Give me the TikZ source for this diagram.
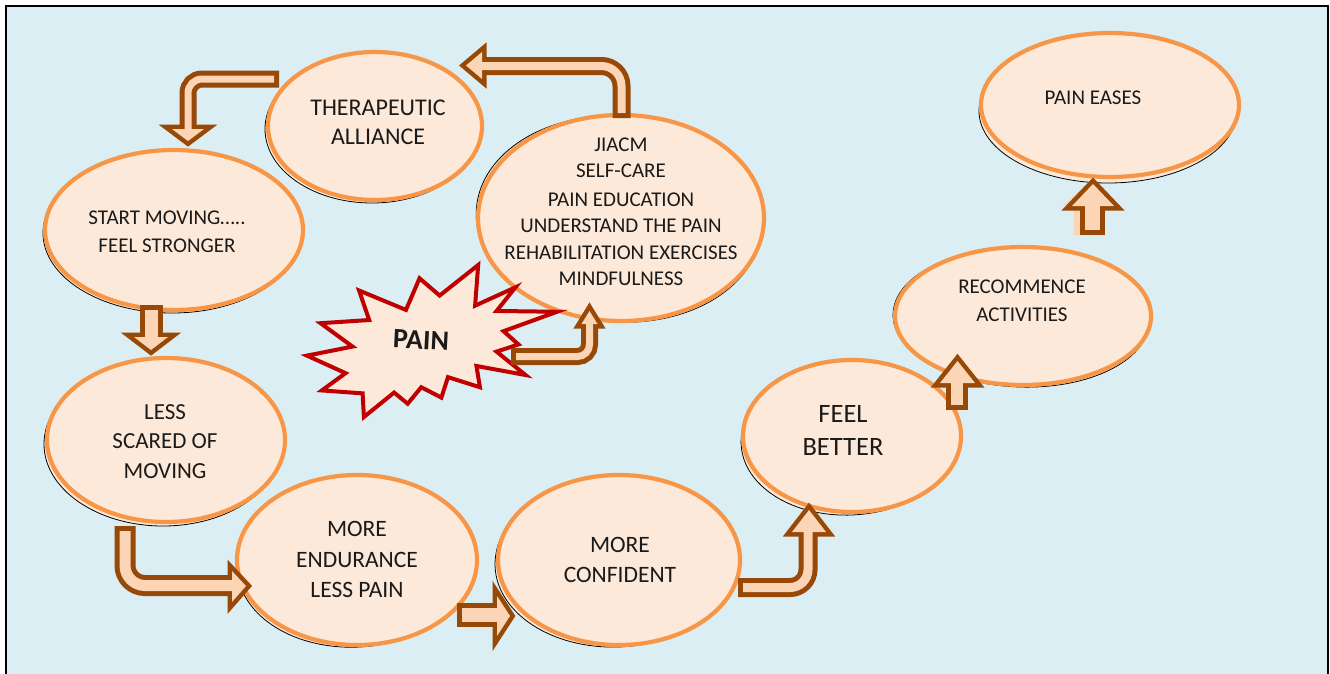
\documentclass[tikz,border=0pt]{standalone}
\usepackage{fontspec}
\setmainfont{Carlito}
\definecolor{sky}{HTML}{DAEEF3}
\definecolor{peach}{HTML}{FDE9D9}
\definecolor{rimorange}{HTML}{F79646}
\definecolor{arrowbrown}{HTML}{984807}
\definecolor{arrowfill}{HTML}{FBD5B5}
\definecolor{burstred}{HTML}{C00000}
\definecolor{inktext}{HTML}{1A1A1A}

% sketchy bubble: thin black ellipse underneath, thick orange ellipse on top
% #1 name, #2 cx, #3 cy, #4 rx, #5 ry, #6 dx, #7 dy, #8 tilt of the black trace
\newcommand\bubble[8]{%
  \draw[black, line width=0.8, fill=peach,
        rotate around={#8:({#2+(#6)},{#3+(#7)})}]
        ({#2+(#6)},{#3+(#7)}) ellipse [x radius=#4, y radius=#5];
  \draw[rimorange, line width=4.2, fill=peach] (#2,#3) ellipse [x radius=#4, y radius=#5];
  \coordinate (#1) at (#2,#3);
}

% block arrow: [path options]{shaft centre line}{shaft width}{head triangle}
\newcommand\blockarrow[4][]{%
  \draw[arrowbrown, line width=#3+10, shorten <=-5, #1] #2;
  \filldraw[arrowbrown, line width=9, line join=miter] #4 -- cycle;
  \draw[arrowfill, line width=#3, shorten >=-2, #1] #2;
  \fill[arrowfill] #4 -- cycle;
}

\tikzset{
  lbl/.style={align=center, text=inktext, inner sep=0pt},
}

\begin{document}
\begin{tikzpicture}[x=1pt, y=-1pt]
\useasboundingbox (0,0) rectangle (1330,673);
\clip (0,0) rectangle (1330,673);

% panel
\draw[black, line width=2.5, fill=sky] (6.2,6.2) rectangle (1328.2,700);

% bubbles
\bubble{therE}{375}{126}{107}{74}{-3}{3}{0}
\bubble{jiacmE}{621}{218}{143}{103}{-2}{1}{-4}
\bubble{startE}{174}{230}{129}{80}{-2}{3}{0}
\bubble{lessE}{166}{440}{119}{82}{-3}{4}{0}
\bubble{endurE}{357}{560}{120}{85}{0}{2}{4}
\bubble{confE}{619}{560}{121}{85}{-3}{2}{2}
\bubble{feelE}{852}{436}{109}{76}{-2}{3}{3}
\bubble{recomE}{1023}{316}{128}{69}{-2}{2}{-2}
\bubble{easesE}{1110}{105}{129}{72}{-2}{6}{0}

% explosion
\begin{scope}[shift={(307,265)}, xscale=1.15741, yscale=0.703704]
\draw[burstred, line width=4, fill=peach, line join=miter]
  (114.62,43.42) -- (147.90,0) -- (145.25,57.77) -- (180.07,31.72) --
  (163.80,65.32) -- (216,66.45) -- (169.85,94.02) -- (182.70,112.90) --
  (163.80,123.10) -- (188.77,156.32) -- (146.40,143.50) -- (149.42,173.70) --
  (121.80,159.35) -- (116.12,188.42) -- (98.72,173.70) -- (87,197.12) --
  (75.27,181.25) -- (49.17,216) -- (48.05,182.40) -- (12.85,178.25) --
  (33.30,153.70) -- (0,128.77) -- (39.35,115.92) -- (11.72,82.70) --
  (53.72,78.17) -- (45.02,36.25) -- (85.50,63.82) -- (97.22,18.87) -- cycle;
\end{scope}

% labels
\node[lbl, font=\fontsize{24}{29}\selectfont] (ther) at (378,122.5) {THERAPEUTIC\\ALLIANCE};
\node[lbl, font=\fontsize{21}{26.2}\selectfont] (jiacm) at (621,211.5)
  {JIACM\\SELF-CARE\\[3pt]PAIN EDUCATION\\UNDERSTAND THE PAIN\\REHABILITATION EXERCISES\\MINDFULNESS};
\node[lbl, font=\fontsize{21}{28}\selectfont] (start) at (167,232) {START MOVING…..\\FEEL STRONGER};
\node[lbl, font=\fontsize{23}{29.5}\selectfont] (less) at (165,441.5) {LESS\\SCARED OF\\MOVING};
\node[lbl, font=\fontsize{23.5}{30.5}\selectfont] (endur) at (357,559.5) {MORE\\ENDURANCE\\LESS PAIN};
\node[lbl, font=\fontsize{23.5}{30}\selectfont] (conf) at (620,560) {MORE\\CONFIDENT};
\node[lbl, font=\fontsize{26.5}{33}\selectfont] (feel) at (843,430.5) {FEEL\\BETTER};
\node[lbl, font=\fontsize{21}{28}\selectfont] (recom) at (1022,301) {RECOMMENCE\\ACTIVITIES};
\node[lbl, font=\fontsize{21}{26}\selectfont] (eases) at (1093,98) {PAIN EASES};
\node[lbl, font=\bfseries\fontsize{28}{30}\selectfont, rotate=-3] (pain) at (421,340) {PAIN};

% arrows
\blockarrow[rounded corners=14]{(274,79) -- (188,79) -- (188,129)}{7}
  {(172,129) -- (204,129) -- (188,141)}
\blockarrow[rounded corners=20]{(621.5,113) -- (621.5,66) -- (482,66)}{8}
  {(482,52) -- (482,79) -- (466,65.5)}
\blockarrow[rounded corners=12]{(516,356.5) -- (589.5,356.5) -- (589.5,324)}{7}
  {(581.5,324) -- (597.5,324) -- (589.5,311)}
\blockarrow{(151,310) -- (151,337)}{13}
  {(134,337) -- (168,337) -- (151,350)}
\blockarrow[rounded corners=20]{(125,531) -- (125,585.5) -- (232,585.5)}{11}
  {(232,571) -- (232,602) -- (246,586)}
\blockarrow{(462,615) -- (497,615)}{14}
  {(497,596) -- (497,636) -- (510,616)}
\blockarrow[rounded corners=18]{(743,587.5) -- (808,587.5) -- (808,532)}{9}
  {(792,532) -- (826,532) -- (809,510)}
\blockarrow{(957,405) -- (957,383)}{12}
  {(940,383) -- (975,383) -- (957.5,361)}
% pale ghost behind the last arrow
\fill[arrowfill] (1074,235) rectangle (1093,206) (1063,206) -- (1105,206) -- (1084,186) -- cycle;
\blockarrow{(1092.5,230) -- (1092.5,206)}{15}
  {(1072,206) -- (1114,206) -- (1093,184)}
\end{tikzpicture}
\end{document}
